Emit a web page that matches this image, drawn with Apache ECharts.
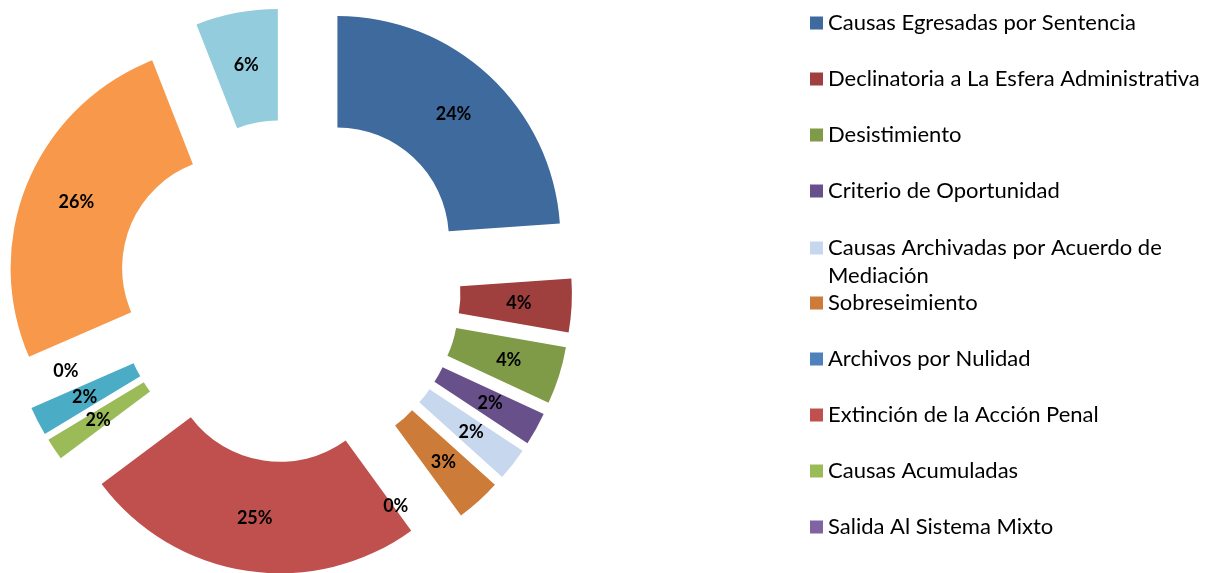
<!DOCTYPE html>
<html>
<head>
<meta charset="utf-8">
<script src="https://cdn.jsdelivr.net/npm/echarts@6/dist/echarts.min.js"></script>
<style>
  html, body { margin: 0; padding: 0; background: #fff; }
  #chart { width: 1214px; height: 573px; }
</style>
</head>
<body>
<div id="chart"></div>
<script>
// categories (only the first ten appear in the legend, the rest are cut off)
var categories = [
    "Causas Egresadas por Sentencia",
    "Declinatoria a La Esfera Administrativa",
    "Desistimiento",
    "Criterio de Oportunidad",
    "Causas Archivadas por Acuerdo de Mediación",
    "Sobreseimiento",
    "Archivos por Nulidad",
    "Extinción de la Acción Penal",
    "Causas Acumuladas",
    "Salida Al Sistema Mixto",
    "Categoría 11",
    "Categoría 12",
    "Categoría 13",
    "Categoría 14"
];
// shares (percent); "0%" slices kept tiny so their label shows
var shares = [24.1, 3.9, 4.2, 2.4, 2.4, 3.3, 0.05, 25.0, 1.6, 0, 2.1, 0.05, 25.8, 6.0];
var colors = [
    "#3E6A9D", "#A0403E", "#7F9B48", "#68508A", "#C6D7EE", "#CC7B38", "#4F81BD",
    "#C0504D", "#9BBB59", "#8064A2", "#4BACC6", "#F79646", "#F7984A", "#93CDDD"
];
var hiddenLabels = ["Salida Al Sistema Mixto"];
// labels of the empty slices sit off their slice in the original
var labelShift = {
    "Archivos por Nulidad": [-29, 29],
    "Categoría 12": [-12, -12]
};
// the first slice is pulled out a little further than the others
var farSlices = ["Causas Egresadas por Sentencia"];

var chart = echarts.init(document.getElementById("chart"));

function pieSeries(offset, own) {
    return {
        type: "pie",
        center: [289, 291],
        radius: [111.5, 223],
        startAngle: 90,
        clockwise: true,
        selectedMode: "multiple",
        selectedOffset: offset,
        avoidLabelOverlap: false,
        labelLayout: function (p) {
            var s = labelShift[categories[p.dataIndex]];
            return s ? { dx: s[0], dy: s[1], hideOverlap: false } : { hideOverlap: false };
        },
        emphasis: { disabled: true },
        select: { itemStyle: { borderWidth: 0 } },
        label: {
            show: true,
            position: "inside",
            fontFamily: "Lato",
            fontWeight: "bold",
            fontSize: 18,
            color: "#000",
            formatter: function (p) { return Math.round(p.percent) + "%"; }
        },
        labelLine: { show: false },
        data: categories.map(function (name, i) {
            var mine = own(name);
            return {
                name: name,
                value: shares[i],
                selected: true,
                itemStyle: { color: mine && shares[i] >= 0.5 ? colors[i] : "rgba(0,0,0,0)" },
                label: { show: mine && hiddenLabels.indexOf(name) < 0 }
            };
        })
    };
}

var legendText = {
    fontFamily: "Lato",
    fontSize: 22,
    color: "#000",
    lineHeight: 28
};
function legendBase(from, to, top, fmt) {
    var l = {
        orient: "vertical",
        left: 810,
        top: top,
        padding: 0,
        itemWidth: 13,
        itemHeight: 13,
        itemGap: 28,
        icon: "rect",
        selectedMode: false,
        textStyle: legendText,
        data: categories.slice(from, to).map(function (name, k) {
            return { name: name, itemStyle: { color: colors[from + k] } };
        })
    };
    if (fmt) l.formatter = fmt;
    return l;
}

chart.setOption({
    animation: false,
    legend: [
        legendBase(0, 4, 9),
        legendBase(4, 5, 206, function () {
            return "\nCausas Archivadas por Acuerdo de\nMediación";
        }),
        legendBase(5, 10, 289)
    ],
    series: [
        pieSeries(60, function (n) { return farSlices.indexOf(n) < 0; }),
        pieSeries(71, function (n) { return farSlices.indexOf(n) >= 0; })
    ]
});
</script>
</body>
</html>
